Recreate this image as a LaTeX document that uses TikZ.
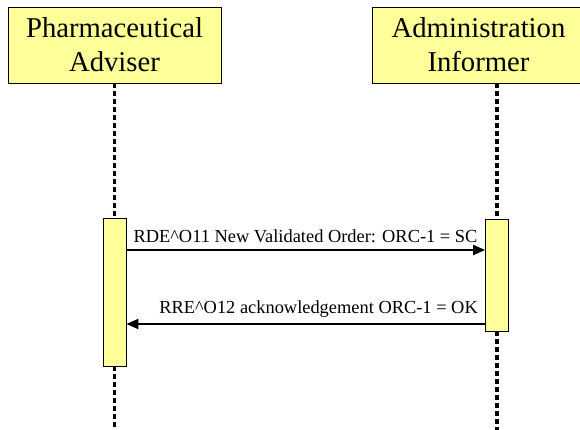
\documentclass[tikz,border=0pt]{standalone}
\usepackage{fontspec}
\setmainfont{Liberation Serif}
\usetikzlibrary{arrows.meta,positioning,calc}
\definecolor{noteyellow}{HTML}{FFFF99}

\begin{document}
\begin{tikzpicture}[x=1pt, y=-1pt,
    actor/.style={rectangle, draw=black, fill=noteyellow, line width=0.8pt,
    minimum width=213pt, minimum height=76pt, inner sep=0pt, align=center,
    font=\fontsize{28.7}{34}\selectfont,
    execute at begin node={\rule{0pt}{26pt}}},
    activation/.style={rectangle, draw=black, fill=noteyellow, line width=0.8pt,
    minimum width=23pt, inner sep=0pt},
    lifeline/.style={line width=3.5pt, dash pattern=on 4.5pt off 3.5pt},
    message/.style={line width=2pt, -{Triangle[length=12pt, width=10pt]}},
    msglabel/.style={font=\fontsize{18.4}{22}\selectfont, inner sep=0pt},]
    \useasboundingbox (0,0) rectangle (580,430);

    \node (adviser) [actor] at (114.5,45) {Pharmaceutical\\Adviser};
    \node (informer) [actor] at (478.5,45) {Administration\\Informer};

    \node (advact) [activation, minimum height=148pt] at (114.5,292) {};
    \node (infact) [activation, minimum height=112pt] at (497,275) {};

    \coordinate (advend) at (114.5,430);
    \coordinate (infend) at (497,430);

    \draw [lifeline] (adviser.south) -- (advact.north);
    \draw [lifeline] (advact.south) -- (advend);
    \draw [lifeline] (informer.south -| infact.north) -- (infact.north);
    \draw [lifeline] (infact.south) -- (infend);

    \coordinate (orderout) at ([yshift=42pt]advact.east);
    \coordinate (ackout) at ([yshift=-49pt]infact.west);

    \draw [message] (orderout) -- (orderout -| infact.west);
    \draw [message] (ackout) -- (ackout -| advact.east);

    \node (ordertxt) [msglabel, anchor=base] at (305.5,242)
    {RDE\textasciicircum O11 New Validated Order: ORC-1 = SC};
    \node (acktxt) [msglabel, anchor=base east] at (478,313)
    {RRE\textasciicircum O12 acknowledgement ORC-1 = OK};
\end{tikzpicture}
\end{document}
